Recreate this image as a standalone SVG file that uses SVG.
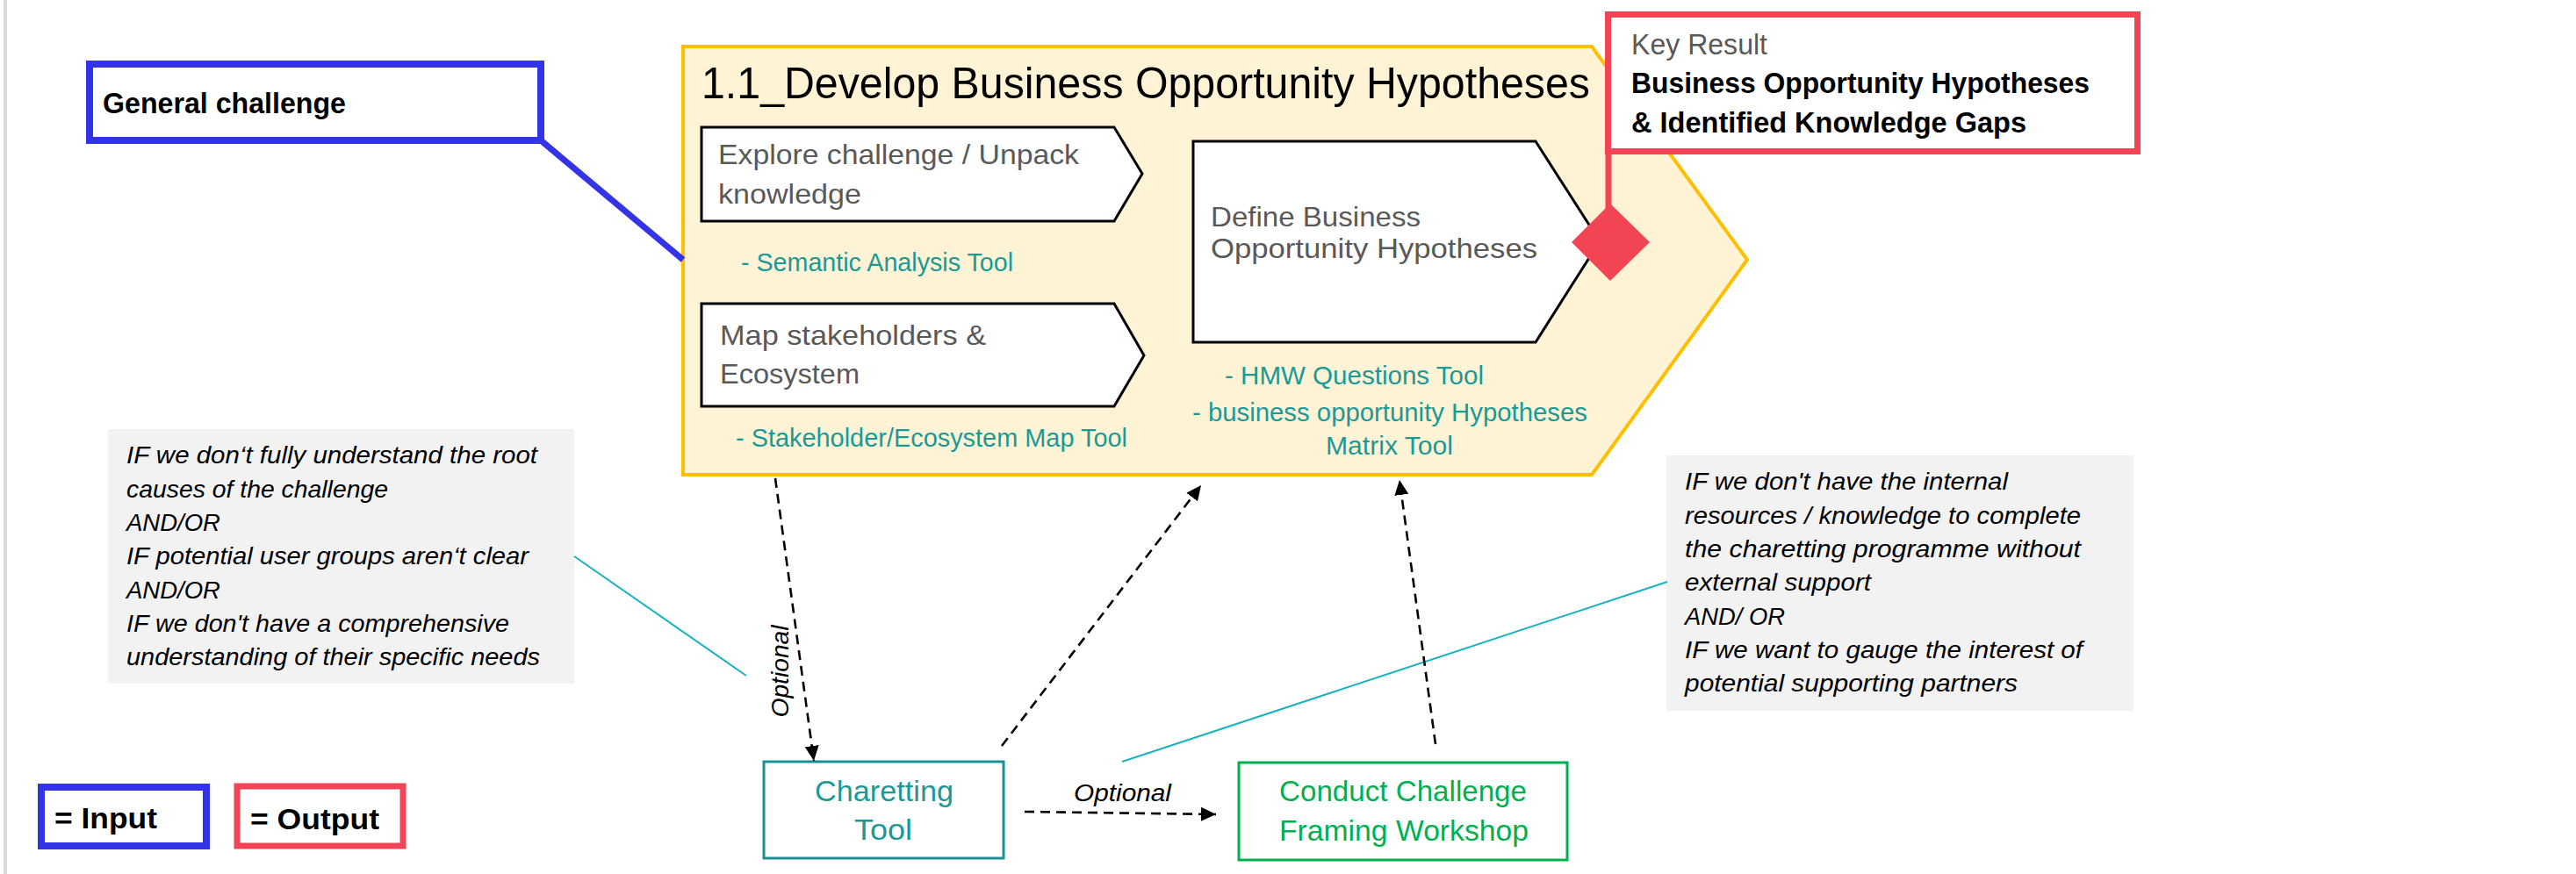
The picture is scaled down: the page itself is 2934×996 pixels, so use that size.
<svg xmlns="http://www.w3.org/2000/svg" width="2934" height="996" viewBox="0 0 2934 996">
<style>
text{font-family:"Liberation Sans",Arial,sans-serif}
.b{font-weight:bold;fill:#000}
.g{fill:#595959}
.t{fill:#1A9A96}
.i{font-style:italic;fill:#000;font-size:28px}
.step{fill:#fff;stroke:#000;stroke-width:3}
.dash{fill:none;stroke:#000;stroke-width:2.6;stroke-dasharray:11 7}
.teal{stroke:#18B2C0;stroke-width:2;fill:none}
.note{fill:#F2F2F2}
</style>
<defs>
<marker id="ah" markerUnits="userSpaceOnUse" markerWidth="18" markerHeight="18" refX="17" refY="8" orient="auto">
<path d="M0,0 L17,8 L0,16 z" fill="#000"/>
</marker>
</defs>
<rect width="2934" height="996" fill="#fff"/>
<rect x="4" y="0" width="4" height="996" fill="#DADADA"/>

<g id="main-step">
<polygon points="778,53 1813,53 1990,296 1813,541 778,541" fill="#FFF3D6" stroke="#FFBF00" stroke-width="4"/>
<text x="799" y="112" font-size="50" fill="#000" textLength="1012" lengthAdjust="spacingAndGlyphs">1.1_Develop Business Opportunity Hypotheses</text>
</g>

<g id="explore">
<polygon class="step" points="799,145 1269,145 1301,198 1269,252 799,252"/>
<text class="g" font-size="32" x="818" y="187" textLength="411" lengthAdjust="spacingAndGlyphs">Explore challenge / Unpack</text>
<text class="g" font-size="32" x="818" y="232" textLength="163" lengthAdjust="spacingAndGlyphs">knowledge</text>
<text class="t" font-size="29" x="844" y="309" textLength="310" lengthAdjust="spacingAndGlyphs">- Semantic Analysis Tool</text>
</g>

<g id="map">
<polygon class="step" points="799,346 1269,346 1303,405 1269,463 799,463"/>
<text class="g" font-size="32" x="820" y="393" textLength="303" lengthAdjust="spacingAndGlyphs">Map stakeholders &amp;</text>
<text class="g" font-size="32" x="820" y="437" textLength="159" lengthAdjust="spacingAndGlyphs">Ecosystem</text>
<text class="t" font-size="29" x="838" y="509" textLength="446" lengthAdjust="spacingAndGlyphs">- Stakeholder/Ecosystem Map Tool</text>
</g>

<g id="define">
<polygon class="step" points="1359,161 1749,161 1822,275 1749,390 1359,390"/>
<text class="g" font-size="32" x="1379" y="258" textLength="239" lengthAdjust="spacingAndGlyphs">Define Business</text>
<text class="g" font-size="32" x="1379" y="294" textLength="372" lengthAdjust="spacingAndGlyphs">Opportunity Hypotheses</text>
<text class="t" font-size="29" x="1395" y="438" textLength="295" lengthAdjust="spacingAndGlyphs">- HMW Questions Tool</text>
<text class="t" font-size="29" x="1358" y="480" textLength="450" lengthAdjust="spacingAndGlyphs">- business opportunity Hypotheses</text>
<text class="t" font-size="29" x="1510" y="518" textLength="145" lengthAdjust="spacingAndGlyphs">Matrix Tool</text>
</g>

<g id="general-challenge">
<rect x="102" y="73" width="514" height="87" fill="#fff" stroke="#3333E8" stroke-width="8"/>
<text class="b" font-size="34" x="117" y="129" textLength="277" lengthAdjust="spacingAndGlyphs">General challenge</text>
</g>

<g id="key-result">
<rect x="1831.5" y="16.5" width="603" height="156" fill="#fff" stroke="#F24455" stroke-width="7"/>
<text class="g" font-size="33" x="1858" y="62" textLength="155" lengthAdjust="spacingAndGlyphs">Key Result</text>
<text class="b" font-size="33" x="1858" y="106" textLength="522" lengthAdjust="spacingAndGlyphs">Business Opportunity Hypotheses</text>
<text class="b" font-size="33" x="1858" y="151" textLength="450" lengthAdjust="spacingAndGlyphs">&amp; Identified Knowledge Gaps</text>
</g>

<g id="note-left">
<rect class="note" x="123" y="489" width="531" height="290"/>
<text class="i" x="144" y="528" textLength="468" lengthAdjust="spacingAndGlyphs">IF we don‘t fully understand the root</text>
<text class="i" x="144" y="567" textLength="298" lengthAdjust="spacingAndGlyphs">causes of the challenge</text>
<text class="i" x="144" y="605" textLength="107" lengthAdjust="spacingAndGlyphs">AND/OR</text>
<text class="i" x="144" y="643" textLength="458" lengthAdjust="spacingAndGlyphs">IF potential user groups aren‘t clear</text>
<text class="i" x="144" y="682" textLength="107" lengthAdjust="spacingAndGlyphs">AND/OR</text>
<text class="i" x="144" y="720" textLength="436" lengthAdjust="spacingAndGlyphs">IF we don't have a comprehensive</text>
<text class="i" x="144" y="758" textLength="471" lengthAdjust="spacingAndGlyphs">understanding of their specific needs</text>
</g>

<g id="note-right">
<rect class="note" x="1898" y="519" width="532" height="291"/>
<text class="i" x="1919" y="558" textLength="368" lengthAdjust="spacingAndGlyphs">IF we don't have the internal</text>
<text class="i" x="1919" y="597" textLength="451" lengthAdjust="spacingAndGlyphs">resources / knowledge to complete</text>
<text class="i" x="1919" y="635" textLength="451" lengthAdjust="spacingAndGlyphs">the charetting programme without</text>
<text class="i" x="1919" y="673" textLength="212" lengthAdjust="spacingAndGlyphs">external support</text>
<text class="i" x="1919" y="712" textLength="114" lengthAdjust="spacingAndGlyphs">AND/ OR</text>
<text class="i" x="1919" y="750" textLength="453" lengthAdjust="spacingAndGlyphs">IF we want to gauge the interest of</text>
<text class="i" x="1919" y="788" textLength="379" lengthAdjust="spacingAndGlyphs">potential supporting partners</text>
</g>

<g id="charetting-tool">
<rect x="870" y="868" width="273" height="110" fill="#fff" stroke="#1A8F94" stroke-width="3"/>
<text class="t" font-size="34" x="928" y="913" textLength="158" lengthAdjust="spacingAndGlyphs">Charetting</text>
<text class="t" font-size="34" x="973" y="957" textLength="66" lengthAdjust="spacingAndGlyphs">Tool</text>
</g>

<g id="workshop">
<rect x="1411" y="869" width="374" height="111" fill="#fff" stroke="#00B050" stroke-width="3"/>
<text font-size="34" fill="#00B050" x="1457" y="913" textLength="282" lengthAdjust="spacingAndGlyphs">Conduct Challenge</text>
<text font-size="34" fill="#00B050" x="1457" y="958" textLength="284" lengthAdjust="spacingAndGlyphs">Framing Workshop</text>
</g>

<g id="legend-input">
<rect x="47" y="897" width="188" height="67" fill="#fff" stroke="#3333E8" stroke-width="8"/>
<text class="b" font-size="34" x="62" y="944" textLength="117" lengthAdjust="spacingAndGlyphs">= Input</text>
</g>
<g id="legend-output">
<rect x="270" y="896" width="189" height="68" fill="#fff" stroke="#F24455" stroke-width="7"/>
<text class="b" font-size="34" x="285" y="945" textLength="147" lengthAdjust="spacingAndGlyphs">= Output</text>
</g>

<g id="connectors">
<line x1="616" y1="160" x2="778" y2="296" stroke="#3333E8" stroke-width="7"/>
<line x1="1832" y1="172" x2="1832" y2="240" stroke="#F24455" stroke-width="7"/>
<polygon points="1834,232 1879,276 1834,320 1790,276" fill="#F24455"/>
<line class="teal" x1="654" y1="634" x2="850" y2="770"/>
<line class="teal" x1="1278" y1="868" x2="1899" y2="663"/>
<line class="dash" x1="883" y1="545" x2="927" y2="867" marker-end="url(#ah)"/>
<line class="dash" x1="1141" y1="850" x2="1368" y2="553" marker-end="url(#ah)"/>
<line class="dash" x1="1635" y1="848" x2="1594" y2="547" marker-end="url(#ah)"/>
<line class="dash" x1="1167" y1="925" x2="1385" y2="928" marker-end="url(#ah)"/>
<text class="i" x="1223" y="913" textLength="111" lengthAdjust="spacingAndGlyphs">Optional</text>
<text class="i" transform="translate(898,765) rotate(-90)" x="0" y="0" text-anchor="middle" textLength="105" lengthAdjust="spacingAndGlyphs">Optional</text>
</g>
</svg>
